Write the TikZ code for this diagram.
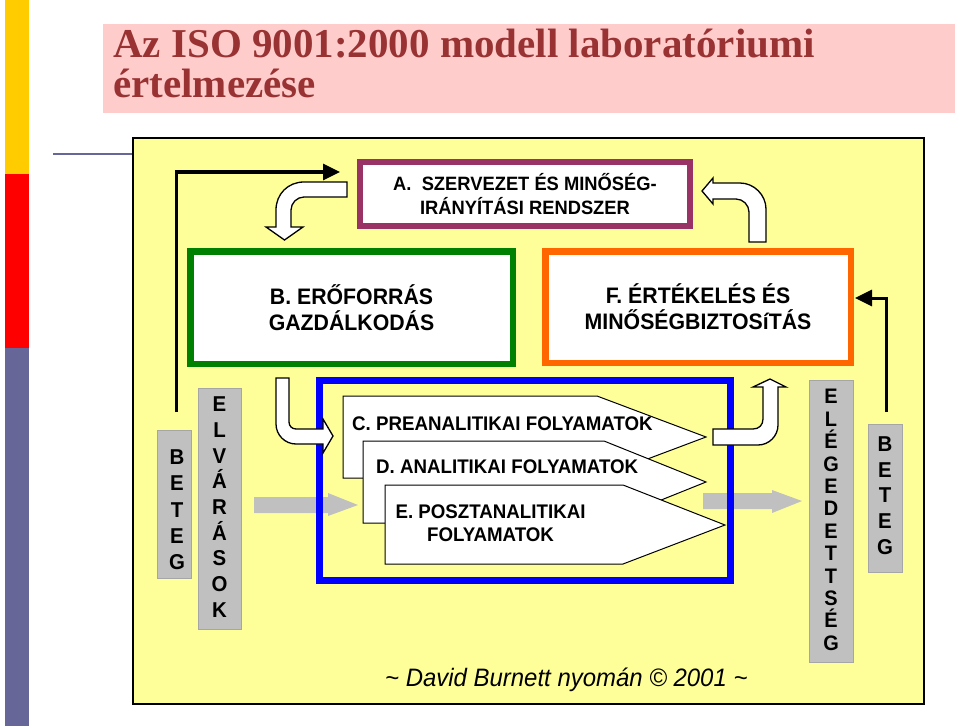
\documentclass[tikz,border=0pt]{standalone}
\usepackage{fontspec}
\setmainfont{Liberation Sans}
\newfontfamily\titlefont{Liberation Serif}
\newfontfamily\diafont[FakeStretch=0.95]{Liberation Sans}
\usetikzlibrary{arrows.meta,positioning}

\definecolor{stripYellow}{HTML}{FFCC00}
\definecolor{stripRed}{HTML}{FF0000}
\definecolor{stripBlue}{HTML}{666699}
\definecolor{titlePink}{HTML}{FFCCCC}
\definecolor{titleRed}{HTML}{993333}
\definecolor{panelYellow}{HTML}{FFFF99}
\definecolor{boxPurple}{HTML}{993366}
\definecolor{boxGreen}{HTML}{008000}
\definecolor{boxOrange}{HTML}{FF6600}
\definecolor{procBlue}{HTML}{0000FF}
\definecolor{barGray}{HTML}{C0C0C0}
\definecolor{barEdge}{HTML}{A6A6A6}

\begin{document}
\begin{tikzpicture}[x=1bp,y=-1bp,
  mainbox/.style={draw,line width=6.5bp,fill=white,inner sep=0pt,align=center,
    font=\diafont\bfseries\fontsize{22.4bp}{26bp}\selectfont},
  procshape/.style={draw,fill=white,line width=1bp,line join=miter},
  proctext/.style={inner sep=0pt,align=center,
    font=\diafont\bfseries\fontsize{19.7bp}{22.7bp}\selectfont},
  bar/.style={draw=barEdge,fill=barGray,line width=0.8bp,inner sep=0pt},
  bartext/.style={inner sep=0pt,align=center,
    font=\diafont\bfseries\fontsize{21.5bp}{25.7bp}\selectfont},
  bendarrow/.style={draw,fill=white,line width=1.3bp,line join=miter},
  grayarrow/.style={fill=barGray},
  loopline/.style={line width=3bp,-{Triangle[length=17bp,width=16bp]}}]
\fill[white] (0,0) rectangle (960,728);
\useasboundingbox (0,0) rectangle (960,728);

% slide decoration
\fill[stripYellow] (5,0) rectangle (29,174);
\fill[stripRed] (5,174) rectangle (29,348);
\fill[stripBlue] (5,348) rectangle (29,726);
\draw[stripBlue,line width=1.5bp] (53,154) -- (133,154);

% title
\fill[titlePink] (103,24) rectangle (955,113);
\node[anchor=base west,inner sep=0pt,text=titleRed,
  font=\titlefont\bfseries\fontsize{41bp}{40bp}\selectfont]
  (title1) at (113,58) {Az ISO 9001:2000 modell laboratóriumi};
\node[anchor=base west,inner sep=0pt,text=titleRed,
  font=\titlefont\bfseries\fontsize{41bp}{40bp}\selectfont]
  (title2) at (113,98) {értelmezése};

% panel
\draw[fill=panelYellow,line width=1.5bp] (133,138) rectangle (924,704);

% upper boxes
\node[mainbox,draw=boxPurple,minimum width=330bp,minimum height=64bp,
  font=\diafont\bfseries\fontsize{19.3bp}{24bp}\selectfont]
  (boxA) at (525,194) {A.\ \ SZERVEZET ÉS MINŐSÉG-\\IRÁNYÍTÁSI RENDSZER};
\node[mainbox,draw=boxGreen,minimum width=322.5bp,minimum height=112.5bp]
  (boxB) at (351.5,307.5) {B. ERŐFORRÁS\\GAZDÁLKODÁS};
\node[mainbox,draw=boxOrange,minimum width=305.5bp,minimum height=111.5bp]
  (boxF) at (698,307) {F. ÉRTÉKELÉS ÉS\\MINŐSÉGBIZTOSíTÁS};

% process arrows
\draw[procshape] (343,396) -- (597,396) -- (706,437) -- (597,478) -- (343,478) -- cycle;
\node[proctext,anchor=west] (textC) at (352,423.5) {C. PREANALITIKAI FOLYAMATOK};
\draw[procshape] (363,441) -- (604,441) -- (706,482) -- (604,523) -- (363,523) -- cycle;
\node[proctext,anchor=west] (textD) at (376,466.7) {D. ANALITIKAI FOLYAMATOK};
\draw[procshape] (385,485) -- (623,485) -- (725,525) -- (623,564) -- (385,564) -- cycle;
\node[proctext] (textE) at (490.5,523) {E. POSZTANALITIKAI\\FOLYAMATOK};

% gray input / output arrows
\fill[grayarrow] (254,497) -- (328,497) -- (328,493) -- (358,505) -- (328,516)
  -- (328,513) -- (254,513) -- cycle;
\fill[grayarrow] (703,493) -- (772,493) -- (772,490) -- (802,501) -- (772,513)
  -- (772,509) -- (703,509) -- cycle;

% frame of the processes
\draw[procBlue,line width=7bp] (319.5,380.5) rectangle (730,580);

% bent arrows
\draw[bendarrow] (347,182) -- (304,182) .. controls (288,182) and (276,194) .. (276,210)
  -- (276,227) -- (266,227) -- (284.5,240) -- (303,227) -- (291,227) -- (291,210)
  .. controls (291,203) and (297,197) .. (304,197) -- (347,197) -- cycle;
\draw[bendarrow] (749,242) -- (749,212) .. controls (749,205) and (743,199) .. (736,199)
  -- (713,199) -- (713,204) -- (702,191) -- (713,178) -- (713,183) -- (740,183)
  .. controls (754,183) and (766,195) .. (766,209) -- (766,242) -- cycle;
\draw[bendarrow] (276,378) -- (276,424) .. controls (276,435) and (285,444) .. (296,444)
  -- (323,444) -- (323,453) -- (333,436) -- (323,419) -- (323,429) -- (296,429)
  .. controls (292,429) and (289,426) .. (289,422) -- (289,378) -- cycle;
\draw[bendarrow] (713,429) -- (753,429) .. controls (759,429) and (763,425) .. (763,419)
  -- (763,387) -- (753,387) -- (770,379) -- (786,387) -- (778,387) -- (778,425)
  .. controls (778,436) and (769,445) .. (758,445) -- (713,445) -- cycle;

% side bars
\node[bar,minimum width=34bp,minimum height=148bp] (betegL) at (174,504) {};
\node[bartext,font=\diafont\bfseries\fontsize{21.5bp}{26.3bp}\selectfont]
  (betegLtext) at (177,510) {B\\E\\T\\E\\G};
\node[bar,minimum width=43bp,minimum height=241bp] (elvarasok) at (219.5,508.5) {};
\node[bartext] (elvarasoktext) at (219.5,507) {E\\L\\V\\Á\\R\\Á\\S\\O\\K};
\node[bar,minimum width=44bp,minimum height=282bp] (elegedettseg) at (831,521) {};
\node[bartext,font=\diafont\bfseries\fontsize{21bp}{22.4bp}\selectfont]
  (elegedettsegtext) at (831,520) {E\\L\\É\\G\\E\\D\\E\\T\\T\\S\\É\\G};
\node[bar,minimum width=34bp,minimum height=148bp] (betegR) at (885,498.5) {};
\node[bartext] (betegRtext) at (885,495.5) {B\\E\\T\\E\\G};

% feedback loop
\coordinate (loopLstart) at (176,412);
\coordinate (loopLend) at (340,172);
\coordinate (loopRstart) at (886,412);
\coordinate (loopRend) at (855,298);
\draw[loopline] (loopLstart) |- (loopLend);
\draw[loopline] (loopRstart) |- (loopRend);

% credit
\node[anchor=west,inner sep=0pt,
  font=\diafont\itshape\fontsize{25.2bp}{28bp}\selectfont]
  (credit) at (385,680) {\textasciitilde{} David Burnett nyomán © 2001 \textasciitilde};
\end{tikzpicture}
\end{document}
